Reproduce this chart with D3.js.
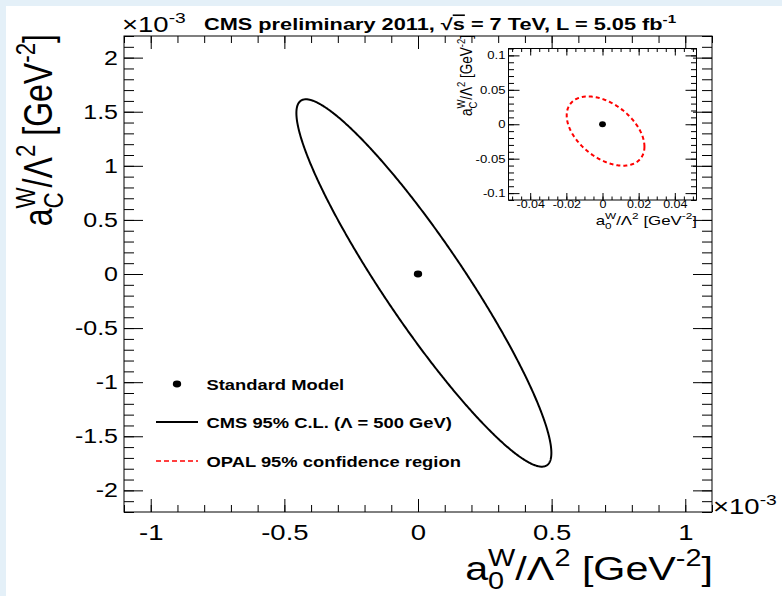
<!DOCTYPE html>
<html>
<head>
<meta charset="utf-8">
<script src="https://cdn.jsdelivr.net/npm/d3@7"></script>
<style>
  html, body { margin: 0; padding: 0; background: #ffffff; }
  svg { display: block; font-family: "Liberation Sans", Arial, Helvetica, sans-serif; }
</style>
</head>
<body>
<svg id="chart" width="782" height="596"></svg>
<script>
// ---- Main plot: a0W/Λ² vs aCW/Λ², in units of 1e-3 GeV^-2 ----
const xTicksMain = [-1, -0.5, 0, 0.5, 1];
const xTickLabelsMain = ["-1", "-0.5", "0", "0.5", "1"];
const yTicksMain = [-2, -1.5, -1, -0.5, 0, 0.5, 1, 1.5, 2];
const yTickLabelsMain = ["-2", "-1.5", "-1", "-0.5", "0", "0.5", "1", "1.5", "2"];

// Standard Model expectation
const standardModel = [0, 0];

// CMS 95% C.L. ellipse: centre, half-widths along each axis, correlation
const cmsCentre = [0.022, -0.083];
const cmsHalfWidth = [0.477, 1.698];
const cmsCorrelation = -0.925;

// ---- Inset: LEP (OPAL) region, in GeV^-2 ----
const xTicksInset = [-0.04, -0.02, 0, 0.02, 0.04];
const xTickLabelsInset = ["-0.04", "-0.02", "0", "0.02", "0.04"];
const yTicksInset = [-0.1, -0.05, 0, 0.05, 0.1];
const yTickLabelsInset = ["-0.1", "-0.05", "0", "0.05", "0.1"];

const opalCentre = [0.0017, -0.0099];
const opalHalfWidth = [0.0215, 0.0503];
const opalCorrelation = -0.45;

// Legend entries
const legendLabels = ["Standard Model", "CMS 95% C.L. (\u039B = 500 GeV)", "OPAL 95% confidence region"];

// ------------------------------------------------------------------
const SX = 1.25;          // horizontal stretch applied to text
const svg = d3.select("#chart");

// page border tint
svg.append("rect").attr("x", 0).attr("y", 0).attr("width", 782).attr("height", 6).attr("fill", "#e4f0f8");
svg.append("rect").attr("x", 0).attr("y", 0).attr("width", 6).attr("height", 596).attr("fill", "#e4f0f8");

const frame = { left: 124, right: 712, top: 36, bottom: 512 };
const x = d3.scaleLinear().domain([-1.1, 1.1]).range([frame.left, frame.right]);
const y = d3.scaleLinear().domain([-2.2, 2.2]).range([frame.bottom, frame.top]);

const inset = { left: 508.5, right: 696.5, top: 48.5, bottom: 200 };
const xi = d3.scaleLinear().domain([-0.052, 0.052]).range([inset.left, inset.right]);
const yi = d3.scaleLinear().domain([-0.11, 0.11]).range([inset.bottom, inset.top]);

// Text with ROOT-style super/subscripts (stacked pairs supported)
function richText(parent, segs, o) {
  const size = o.size;
  const sx = o.sx || SX;
  let tr = `translate(${o.x},${o.y}) scale(${sx},1)`;
  if (o.rotate) tr += ` rotate(${o.rotate})`;
  const g = parent.append("g").attr("transform", tr);
  const t = g.append("text")
    .attr("font-size", size)
    .attr("font-weight", o.weight || "normal")
    .attr("text-anchor", o.anchor || "start")
    .attr("fill", o.fill || "#000");
  let shift = 0, pendingDx = 0, stackW = 0;
  segs.forEach(s => {
    const small = s.sup || s.sub;
    const target = s.sup ? -size * 0.42 : s.sub ? size * 0.27 : 0;
    const ts = t.append("tspan").text(s.t)
      .attr("font-size", small ? size * 0.7 : size)
      .attr("dy", target - shift);
    if (s.over) ts.style("text-decoration", "overline");
    shift = target;
    if (s.stackSub) ts.attr("dx", -stackW);
    else if (pendingDx) { ts.attr("dx", pendingDx); pendingDx = 0; }
    const w = ts.node().getComputedTextLength();
    if (s.stackSup) stackW = w;
    if (s.stackSub) pendingDx = Math.max(0, stackW - w);
  });
  return g;
}

function stretchLabels(sel) {
  sel.selectAll(".tick text").each(function () {
    const el = d3.select(this);
    const tx = +el.attr("x") || 0;
    el.attr("x", tx / SX).attr("transform", `scale(${SX},1)`);
  });
}

function styleAxis(g, fontSize) {
  g.select(".domain").remove();
  g.selectAll(".tick line").attr("stroke", "#000").attr("stroke-width", 1);
  g.selectAll(".tick text").attr("font-size", fontSize).attr("fill", "#000")
    .attr("font-family", "\"Liberation Sans\", Arial, Helvetica, sans-serif");
}

// ---- main axes ----
const minorX = d3.range(-11, 12).map(i => i / 10);
const minorY = d3.range(-22, 23).map(i => i / 10);
const main = svg.append("g");

const gl = main.append("g").attr("transform", `translate(${frame.left},0)`)
  .call(d3.axisLeft(y).tickValues(yTicksMain).tickSize(-19).tickPadding(6)
    .tickFormat((d, i) => yTickLabelsMain[i]));
styleAxis(gl, 20); stretchLabels(gl);
const glm = main.append("g").attr("transform", `translate(${frame.left},0)`)
  .call(d3.axisLeft(y).tickValues(minorY).tickSize(-10).tickFormat(""));
styleAxis(glm, 0);

const gr = main.append("g").attr("transform", `translate(${frame.right},0)`)
  .call(d3.axisRight(y).tickValues(yTicksMain).tickSize(-19).tickFormat(""));
styleAxis(gr, 0);
const grm = main.append("g").attr("transform", `translate(${frame.right},0)`)
  .call(d3.axisRight(y).tickValues(minorY).tickSize(-10).tickFormat(""));
styleAxis(grm, 0);

const gb = main.append("g").attr("transform", `translate(0,${frame.bottom})`)
  .call(d3.axisBottom(x).tickValues(xTicksMain).tickSize(-13).tickPadding(12)
    .tickFormat((d, i) => xTickLabelsMain[i]));
styleAxis(gb, 22); stretchLabels(gb);
const gbm = main.append("g").attr("transform", `translate(0,${frame.bottom})`)
  .call(d3.axisBottom(x).tickValues(minorX).tickSize(-7).tickFormat(""));
styleAxis(gbm, 0);

const gt = main.append("g").attr("transform", `translate(0,${frame.top})`)
  .call(d3.axisTop(x).tickValues(xTicksMain).tickSize(-13).tickFormat(""));
styleAxis(gt, 0);
const gtm = main.append("g").attr("transform", `translate(0,${frame.top})`)
  .call(d3.axisTop(x).tickValues(minorX).tickSize(-7).tickFormat(""));
styleAxis(gtm, 0);

main.append("rect")
  .attr("x", frame.left).attr("y", frame.top)
  .attr("width", frame.right - frame.left).attr("height", frame.bottom - frame.top)
  .attr("fill", "none").attr("stroke", "#000").attr("stroke-width", 1);

// axis exponents
richText(svg, [{ t: "\u00D710" }, { t: "-3", sup: true }], { x: 122, y: 32, size: 22 });
richText(svg, [{ t: "\u00D710" }, { t: "-3", sup: true }], { x: 713, y: 514, size: 22 });

// axis titles
richText(svg, [{ t: "a" }, { t: "W", sup: true, stackSup: true }, { t: "0", sub: true, stackSub: true },
  { t: "/\u039B" }, { t: "2", sup: true }, { t: " [GeV" }, { t: "-2", sup: true }, { t: "]" }],
  { x: 713, y: 580, size: 33, anchor: "end" });
richText(svg, [{ t: "a" }, { t: "W", sup: true, stackSup: true }, { t: "C", sub: true, stackSub: true },
  { t: "/\u039B" }, { t: "2", sup: true }, { t: " [GeV" }, { t: "-2", sup: true }, { t: "]" }],
  { x: 52, y: 34, size: 32, anchor: "end", rotate: -90 });

// title
richText(svg, [{ t: "CMS preliminary 2011, \u221A" }, { t: "s", over: true }, { t: " = 7 TeV, L = 5.05 fb" }, { t: "-1", sup: true }],
  { x: 204, y: 29.5, size: 16, weight: "bold", sx: 1.36 });

// ellipse outline from centre, half-widths and correlation
function ellipsePoints(c, h, rho) {
  const delta = Math.acos(rho);
  return d3.range(0, 721).map(i => {
    const t = i / 720 * 2 * Math.PI;
    return [c[0] + h[0] * Math.cos(t), c[1] + h[1] * Math.cos(t - delta)];
  });
}

main.append("path")
  .datum(ellipsePoints(cmsCentre, cmsHalfWidth, cmsCorrelation))
  .attr("d", d3.line().x(d => x(d[0])).y(d => y(d[1])))
  .attr("fill", "none").attr("stroke", "#000").attr("stroke-width", 2);

main.append("ellipse")
  .attr("cx", x(standardModel[0])).attr("cy", y(standardModel[1]))
  .attr("rx", 4.2).attr("ry", 3.4).attr("fill", "#000");

// ---- legend ----
const lg = svg.append("g");
lg.append("ellipse").attr("cx", 177).attr("cy", 384).attr("rx", 4.2).attr("ry", 3.4).attr("fill", "#000");
lg.append("line").attr("x1", 156).attr("x2", 198).attr("y1", 422).attr("y2", 422)
  .attr("stroke", "#000").attr("stroke-width", 2);
lg.append("line").attr("x1", 156).attr("x2", 198).attr("y1", 461).attr("y2", 461)
  .attr("stroke", "#ff0000").attr("stroke-width", 1.6).attr("stroke-dasharray", "5,3");
[389.5, 427.5, 466.5].forEach((by, i) => {
  richText(lg, [{ t: legendLabels[i] }], { x: 206.5, y: by, size: 14.7, weight: "bold" });
});

// ---- inset ----
const ins = svg.append("g");
const minorXi = d3.range(-10, 11).map(i => i * 0.005);
const minorYi = d3.range(-11, 12).map(i => i * 0.01);

const il = ins.append("g").attr("transform", `translate(${inset.left},0)`)
  .call(d3.axisLeft(yi).tickValues(yTicksInset).tickSize(-11).tickPadding(3)
    .tickFormat((d, i) => yTickLabelsInset[i]));
styleAxis(il, 10.5); stretchLabels(il);
const ilm = ins.append("g").attr("transform", `translate(${inset.left},0)`)
  .call(d3.axisLeft(yi).tickValues(minorYi).tickSize(-5.5).tickFormat(""));
styleAxis(ilm, 0);
const ir = ins.append("g").attr("transform", `translate(${inset.right},0)`)
  .call(d3.axisRight(yi).tickValues(yTicksInset).tickSize(-11).tickFormat(""));
styleAxis(ir, 0);
const irm = ins.append("g").attr("transform", `translate(${inset.right},0)`)
  .call(d3.axisRight(yi).tickValues(minorYi).tickSize(-5.5).tickFormat(""));
styleAxis(irm, 0);

const ib = ins.append("g").attr("transform", `translate(0,${inset.bottom})`)
  .call(d3.axisBottom(xi).tickValues(xTicksInset).tickSize(-7).tickPadding(1)
    .tickFormat((d, i) => xTickLabelsInset[i]));
styleAxis(ib, 10); stretchLabels(ib);
const ibm = ins.append("g").attr("transform", `translate(0,${inset.bottom})`)
  .call(d3.axisBottom(xi).tickValues(minorXi).tickSize(-3.5).tickFormat(""));
styleAxis(ibm, 0);
const it = ins.append("g").attr("transform", `translate(0,${inset.top})`)
  .call(d3.axisTop(xi).tickValues(xTicksInset).tickSize(-7).tickFormat(""));
styleAxis(it, 0);
const itm = ins.append("g").attr("transform", `translate(0,${inset.top})`)
  .call(d3.axisTop(xi).tickValues(minorXi).tickSize(-3.5).tickFormat(""));
styleAxis(itm, 0);

ins.append("rect")
  .attr("x", inset.left).attr("y", inset.top)
  .attr("width", inset.right - inset.left).attr("height", inset.bottom - inset.top)
  .attr("fill", "none").attr("stroke", "#000").attr("stroke-width", 1);

ins.append("path")
  .datum(ellipsePoints(opalCentre, opalHalfWidth, opalCorrelation))
  .attr("d", d3.line().x(d => xi(d[0])).y(d => yi(d[1])))
  .attr("fill", "none").attr("stroke", "#ff0000").attr("stroke-width", 2)
  .attr("stroke-dasharray", "4,3");

ins.append("ellipse")
  .attr("cx", xi(standardModel[0])).attr("cy", yi(standardModel[1]))
  .attr("rx", 3.4).attr("ry", 2.9).attr("fill", "#000");

richText(ins, [{ t: "a" }, { t: "W", sup: true, stackSup: true }, { t: "0", sub: true, stackSub: true },
  { t: "/\u039B" }, { t: "2", sup: true }, { t: " [GeV" }, { t: "-2", sup: true }, { t: "]" }],
  { x: 697, y: 225, size: 13.5, anchor: "end" });
richText(ins, [{ t: "a" }, { t: "W", sup: true, stackSup: true }, { t: "C", sub: true, stackSub: true },
  { t: "/\u039B" }, { t: "2", sup: true }, { t: " [GeV" }, { t: "-2", sup: true }, { t: "]" }],
  { x: 472, y: 35, size: 13.5, anchor: "end", rotate: -90 });
</script>
</body>
</html>
